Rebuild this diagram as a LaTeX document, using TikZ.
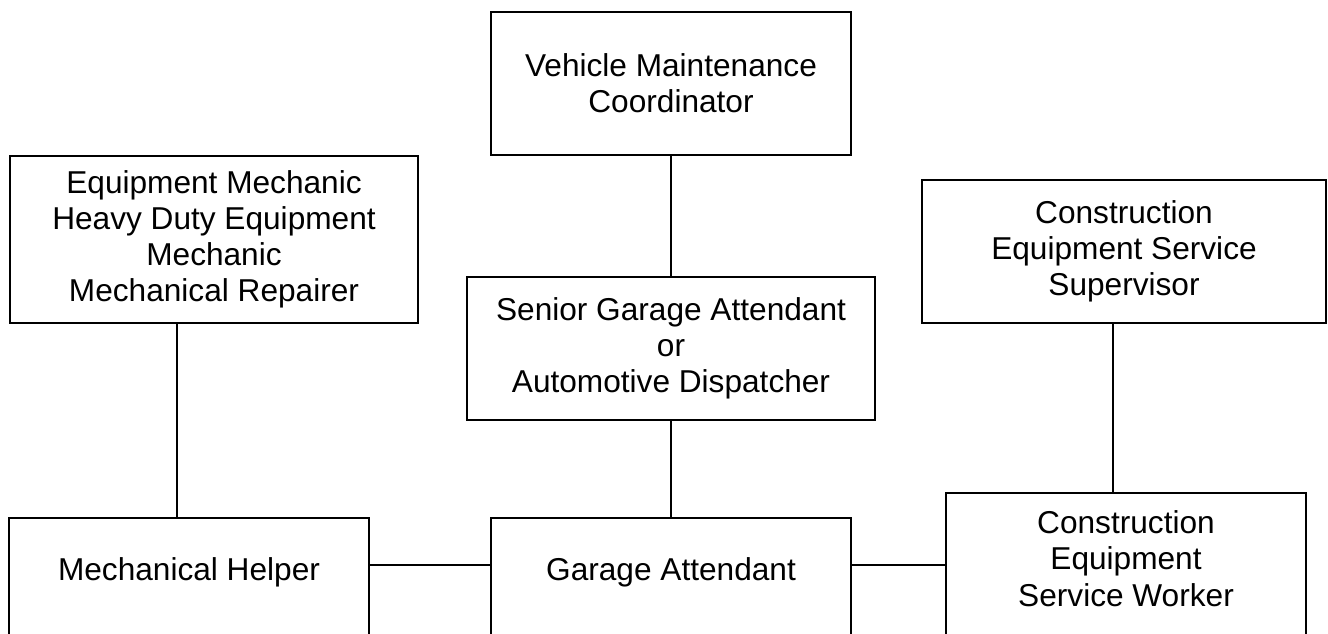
\documentclass[tikz,border=0pt]{standalone}
\usepackage{fontspec}
\setmainfont{Liberation Sans}
\usepackage{tikz}
\usetikzlibrary{positioning}

\begin{document}
\begin{tikzpicture}[
    x=0.02cm, y=-0.02cm,
    box/.style={draw, line width=1.1pt, align=center, inner sep=0pt, minimum width=#1, font=\fontsize{18}{20.5}\selectfont},
    box/.default={7.2cm},
    lowbox/.style={box=#1, anchor=north, text depth=3cm},
    lowbox/.default={7.2cm},
    link/.style={line width=1.1pt}
]

\path[use as bounding box, clip] (0,0) rectangle (1328,633);

\node[box, minimum height=2.86cm] (vmc) at (671, 83.5) {Vehicle Maintenance\\Coordinator};
\node[box=8.16cm, minimum height=3.34cm] (em) at (214, 239.5) {Equipment Mechanic\\Heavy Duty Equipment\\Mechanic\\Mechanical Repairer};
\node[box=8.16cm, minimum height=2.86cm] (sga) at (671, 348.5) {Senior Garage Attendant\\or\\Automotive Dispatcher};
\node[box=8.08cm, minimum height=2.86cm] (ces) at (1124, 251.5) {Construction\\Equipment Service\\Supervisor};
\node[lowbox, text height=1.26cm] (mh) at (189, 517) {Mechanical Helper};
\node[lowbox, text height=1.26cm] (ga) at (671, 517) {Garage Attendant};
\node[lowbox, text height=0.82cm] (cesw) at (1126, 492) {\begin{tabular}[t]{@{}c@{}}Construction\\Equipment\\Service Worker\end{tabular}};

\coordinate (emx) at (177, 0);
\coordinate (cesx) at (1113, 0);
\coordinate (rowy) at (0, 565);

\draw[link] (vmc.south) -- (sga.north);
\draw[link] (sga.south) -- (ga.north);
\draw[link] (em.south -| emx) -- (mh.north -| emx);
\draw[link] (ces.south -| cesx) -- (cesw.north -| cesx);
\draw[link] (mh.east |- rowy) -- (ga.west |- rowy);
\draw[link] (ga.east |- rowy) -- (cesw.west |- rowy);

\end{tikzpicture}
\end{document}
